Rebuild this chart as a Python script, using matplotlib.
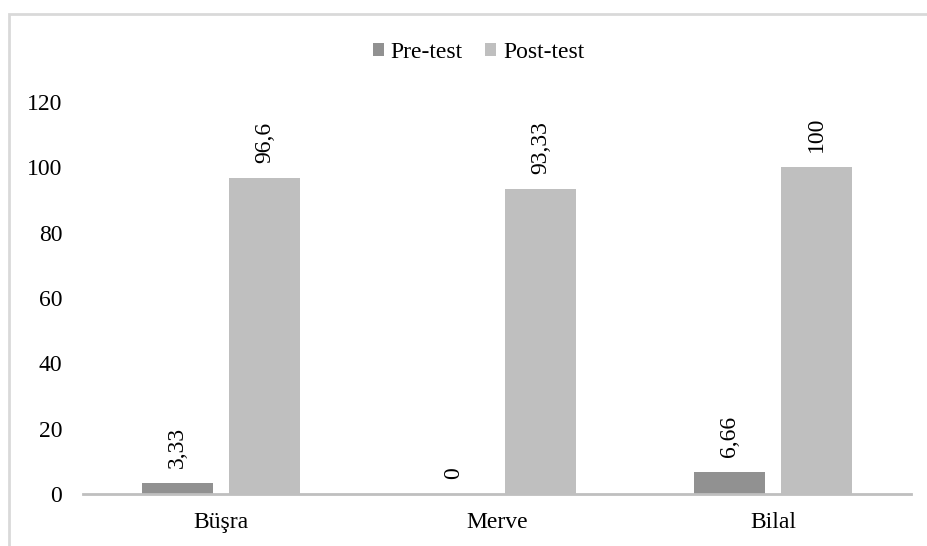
import matplotlib
matplotlib.use("Agg")
import matplotlib.pyplot as plt
from matplotlib.patches import Rectangle
import numpy as np

students = ["Büşra", "Merve", "Bilal"]
pre_test = [3.33, 0, 6.66]
post_test = [96.6, 93.33, 100]
series_names = ["Pre-test", "Post-test"]
y_ticks = [0, 20, 40, 60, 80, 100, 120]

plt.rcParams["font.family"] = ["Liberation Serif", "DejaVu Serif"]

fig = plt.figure(figsize=(9.28, 5.46), dpi=100)
ax = fig.add_axes([83 / 928, 1 - 494 / 546, 828 / 928, 392 / 546])

# outer chart frame
fig.patches.append(Rectangle((9 / 928, -0.05), 1.2, 1 - 14 / 546 + 0.05,
                             transform=fig.transFigure, fill=False,
                             edgecolor="#d9d9d9", linewidth=2.0))

x = np.arange(len(students))
width = 0.257
offset = 0.1575
b1 = ax.bar(x - offset, pre_test, width, color="#919191", label=series_names[0])
b2 = ax.bar(x + offset, post_test, width, color="#bfbfbf", label=series_names[1])

def fmt(v):
    return f"{v:g}".replace(".", ",")

for bars, vals in ((b1, pre_test), (b2, post_test)):
    for rect, v in zip(bars, vals):
        ax.annotate(fmt(v), (rect.get_x() + rect.get_width() / 2, v),
                    xytext=(0, 11), textcoords="offset points",
                    rotation=90, ha="center", va="bottom", fontsize=17)

ax.set_xlim(-0.5, len(students) - 0.5)
ax.set_ylim(0, 120)
ax.set_yticks(y_ticks)
ax.set_yticklabels([str(t) for t in y_ticks])
ax.set_xticks(x)
ax.set_xticklabels(students)
ax.tick_params(axis="both", length=0, labelsize=17)
ax.tick_params(axis="y", pad=15)
ax.tick_params(axis="x", pad=13)

for side in ("top", "right", "left"):
    ax.spines[side].set_visible(False)
ax.spines["bottom"].set_color("#bfbfbf")
ax.spines["bottom"].set_linewidth(2.0)

leg = fig.legend(loc="center", bbox_to_anchor=(478.5 / 928, 1 - 52 / 546), ncol=2,
                 frameon=False, fontsize=17, handlelength=0.47, handleheight=0.47,
                 handletextpad=0.3, columnspacing=0.93)

fig.savefig("out.png", dpi=100)
